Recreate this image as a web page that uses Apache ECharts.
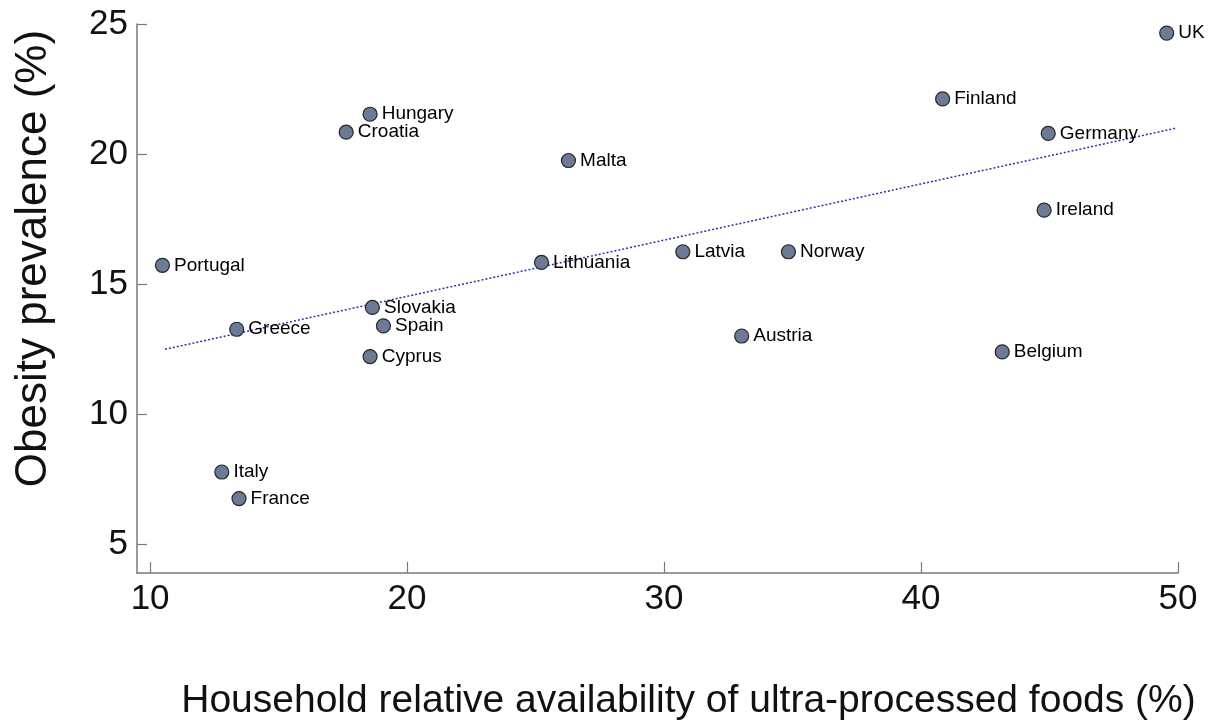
<!DOCTYPE html>
<html>
<head>
<meta charset="utf-8">
<script src="https://cdn.jsdelivr.net/npm/echarts@6/dist/echarts.min.js"></script>
<style>
html,body{margin:0;padding:0;background:#fff;}
#chart{width:1209px;height:720px;}
</style>
</head>
<body>
<div id="chart"></div>
<script>
// ---- data ----
const countries = ["UK","Finland","Germany","Ireland","Norway","Austria","Belgium","Latvia","Lithuania","Malta","Hungary","Croatia","Portugal","Greece","Slovakia","Spain","Cyprus","Italy","France"];
const upfShare  = [49.56,40.84,44.95,44.79,34.84,33.02,43.16,30.73,25.23,26.28,18.56,17.63,10.48,13.37,18.65,19.08,18.56,12.79,13.46];
const obesity   = [24.65,22.12,20.79,17.84,16.24,13.00,12.39,16.24,15.83,19.75,21.53,20.84,15.72,13.26,14.10,13.39,12.21,7.77,6.75];
const trendX = [10.58, 49.95];
const trendY = [12.49, 21.00];
const xTicks = [10,20,30,40,50];
const yTicks = [5,10,15,20,25];
const xTitle = "Household relative availability of ultra-processed foods (%)";
const yTitle = "Obesity prevalence (%)";

const FONT = '"Liberation Sans", Arial, sans-serif';
const pts = countries.map((c,i)=>({name:c, value:[upfShare[i], obesity[i]]}));
const trend = trendX.map((x,i)=>[x, trendY[i]]);

const chart = echarts.init(document.getElementById('chart'), null, {renderer:'canvas'});
chart.setOption({
  animation:false,
  backgroundColor:'#ffffff',
  grid:{left:137, right:31, top:24, bottom:147, containLabel:false, outerBoundsMode:'none'},
  xAxis:{
    type:'value', min:9.49, max:50,
    axisLine:{show:true, lineStyle:{color:'#7a7a7a', width:1.5}},
    axisTick:{show:true, inside:true, length:11, customValues:xTicks, lineStyle:{color:'#7a7a7a', width:1.2}},
    axisLabel:{customValues:xTicks, color:'#111', fontSize:35, fontFamily:FONT, margin:9},
    splitLine:{show:false},
    name:xTitle, nameLocation:'middle', nameGap:109,
    nameTextStyle:{color:'#111', fontSize:39, fontFamily:FONT, padding:[0,0,0,62]}
  },
  yAxis:{
    type:'value', min:3.886, max:25,
    axisLine:{show:true, lineStyle:{color:'#7a7a7a', width:1.5}},
    axisTick:{show:true, inside:true, length:10, customValues:yTicks, lineStyle:{color:'#7a7a7a', width:1.2}},
    axisLabel:{customValues:yTicks, color:'#111', fontSize:35, fontFamily:FONT, margin:9},
    splitLine:{show:false},
    name:yTitle, nameLocation:'middle', nameGap:81, nameRotate:90,
    nameTextStyle:{color:'#111', fontSize:44, fontFamily:FONT, padding:[0,0,0,80]}
  },
  series:[
    {
      type:'line', data:trend, symbol:'none', silent:true,
      lineStyle:{color:'#2f2fa8', width:1.5, type:[2,2]}, z:1
    },
    {
      type:'scatter', data:pts, symbol:'circle', symbolSize:14, z:2,
      itemStyle:{color:'#6b7b95', borderColor:'#262626', borderWidth:1.2, opacity:1},
      label:{show:true, position:'right', distance:4, formatter:'{b}', color:'#000', fontSize:19, fontFamily:FONT}
    }
  ]
});
</script>
</body>
</html>
